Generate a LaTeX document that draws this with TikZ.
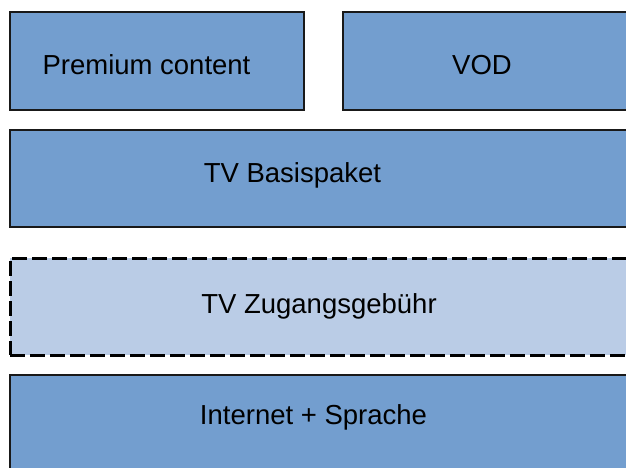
\documentclass[tikz,border=0pt]{standalone}
\usepackage{fontspec}
\setmainfont{Liberation Sans}
\definecolor{boxblue}{RGB}{115,158,207}
\definecolor{boxlight}{RGB}{186,204,230}

\begin{document}
\begin{tikzpicture}[x=1pt,y=-1pt,
	box/.style={draw=black!90, line width=1.5pt, fill=boxblue, rectangle, inner sep=0pt},
	dashbox/.style={draw=black, line width=3pt, fill=boxlight, dash pattern=on 15pt off 5pt, rectangle, inner sep=0pt},
	lbl/.style={anchor=base, inner sep=0pt, font=\fontsize{27.5}{32}\selectfont}]
	\useasboundingbox (0,0) rectangle (626,467);
	\clip (0,0) rectangle (626,467);

	%top row
	\node (premium) [box, minimum width=294pt, minimum height=98pt] at (157,61) {};
	\node (vod) [box, minimum width=310pt, minimum height=98pt] at (498,61) {};
		\node (premiumtxt) [lbl] at (146.5,74) {Premium content};
		\node (vodtxt) [lbl] at (482,74) {VOD};

	%tv basis
	\node (basis) [box, minimum width=640pt, minimum height=97pt] at (330,178.5) {};
		\node (basistxt) [lbl] at (292.5,182) {TV Basispaket};

	%dashed access fee
	\node (zugang) [dashbox, minimum width=640pt, minimum height=97pt] at (330,306.5) {};
		\node (zugangtxt) [lbl] at (319,313) {TV Zugangsgebühr};

	%bottom
	\node (internet) [box, minimum width=640pt, minimum height=110pt] at (330,430) {};
		\node (internettxt) [lbl] at (313.5,424) {Internet + Sprache};
\end{tikzpicture}
\end{document}
